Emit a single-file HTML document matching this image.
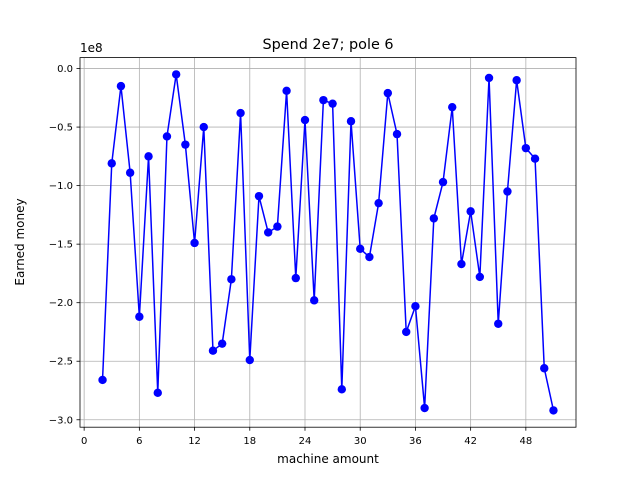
<!DOCTYPE html>
<html><head><meta charset="utf-8"><style>
body{margin:0;background:#fff;font-family:"DejaVu Sans","Liberation Sans",sans-serif;}
svg text{font-family:"DejaVu Sans","Liberation Sans",sans-serif;}
</style></head><body>
<svg id="chart" width="640" height="480" xmlns="http://www.w3.org/2000/svg">
<rect width="640" height="480" fill="#fff"/>
<g id="grid"></g>
<g id="axes"></g>
<g id="series"></g>
<rect x="80" y="57.6" width="496" height="369.6" fill="none" stroke="#000" stroke-width="0.8"/>
<text x="328" y="49" text-anchor="middle" font-size="14.4">Spend 2e7; pole 6</text>
<text x="328" y="463" text-anchor="middle" font-size="12">machine amount</text>
<text transform="translate(24,242) rotate(-90)" text-anchor="middle" font-size="12">Earned money</text>
<text x="80" y="52" font-size="12">1e8</text>
</svg>
<script>
const xValues=[2,3,4,5,6,7,8,9,10,11,12,13,14,15,16,17,18,19,20,21,22,23,24,25,26,27,28,29,30,31,32,33,34,35,36,37,38,39,40,41,42,43,44,45,46,47,48,49,50,51];
const yValues=[-2.66,-0.81,-0.15,-0.89,-2.12,-0.75,-2.77,-0.58,-0.05,-0.65,-1.49,-0.50,-2.41,-2.35,-1.80,-0.38,-2.49,-1.09,-1.40,-1.35,-0.19,-1.79,-0.44,-1.98,-0.27,-0.30,-2.74,-0.45,-1.54,-1.61,-1.15,-0.21,-0.56,-2.25,-2.03,-2.90,-1.28,-0.97,-0.33,-1.67,-1.22,-1.78,-0.08,-2.18,-1.05,-0.10,-0.68,-0.77,-2.56,-2.92];
const xTicks=[0,6,12,18,24,30,36,42,48];
const yTicks=[0,-0.5,-1.0,-1.5,-2.0,-2.5,-3.0];
const yTickLabels=["0.0","\u22120.5","\u22121.0","\u22121.5","\u22122.0","\u22122.5","\u22123.0"];
const L=80,R=576,T=57.6,B=427.2;
const xmin=Math.min(...xValues),xmax=Math.max(...xValues),xm=(xmax-xmin)*0.05;
const ymin=Math.min(...yValues),ymax=Math.max(...yValues),ym=(ymax-ymin)*0.05;
const X=v=>L+(v-(xmin-xm))/((xmax+xm)-(xmin-xm))*(R-L);
const Y=v=>B-(v-(ymin-ym))/((ymax+ym)-(ymin-ym))*(B-T);
const NS="http://www.w3.org/2000/svg";
function mk(tag,attrs,parent){const e=document.createElementNS(NS,tag);for(const k in attrs)e.setAttribute(k,attrs[k]);document.getElementById(parent).appendChild(e);return e;}
xTicks.forEach(t=>{
 const x=X(t);
 const g=mk('line',{x1:x,x2:x,y1:T,y2:B,stroke:'#b0b0b0','stroke-width':0.8},'grid');
 
 
 const tk=mk('line',{x1:x,x2:x,y1:B,y2:B+3.5,stroke:'#000','stroke-width':0.8},'axes');
 
 
 const tx=mk('text',{x:x,y:B+17,'text-anchor':'middle','font-size':10},'axes');
 tx.textContent=t;
 
 
});
yTicks.forEach((t,i)=>{
 const y=Y(t);
 const g=mk('line',{x1:L,x2:R,y1:y,y2:y,stroke:'#b0b0b0','stroke-width':0.8},'grid');
 
 
 const tk=mk('line',{x1:L-3.5,x2:L,y1:y,y2:y,stroke:'#000','stroke-width':0.8},'axes');
 
 
 const tx=mk('text',{x:L-7,y:y+3.5,'text-anchor':'end','font-size':10},'axes');
 tx.textContent=yTickLabels[i];
 
 
});
const pts=xValues.map((x,i)=>X(x)+','+Y(yValues[i])).join(' ');
const line=mk('polyline',{points:pts,fill:'none',stroke:'#0000ff','stroke-width':1.5},'series');


xValues.forEach((x,i)=>{
 const c=mk('circle',{cx:X(x),cy:Y(yValues[i]),r:4.2,fill:'#0000ff'},'series');
 
 
});
</script>
</body></html>
